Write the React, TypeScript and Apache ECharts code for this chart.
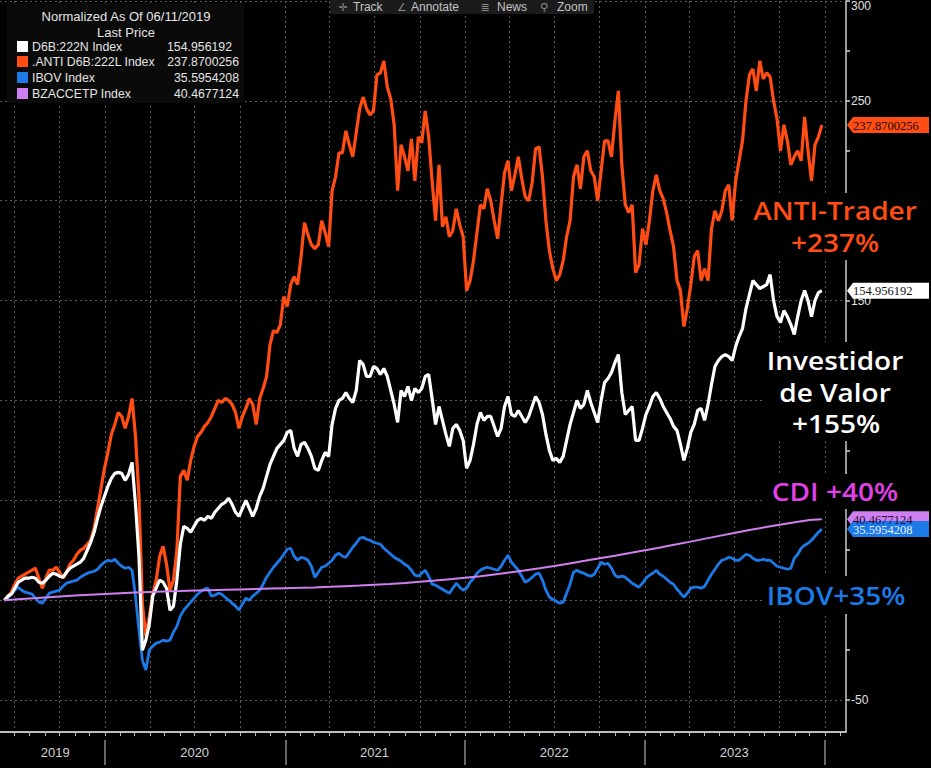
import React, { useEffect, useRef } from "react";
import * as echarts from "echarts";

// ---------------- DATA (weekly closes from 2019-06-11, normalized % change) ----------------
const FIRST_DATE = [2019, 5, 11]; // 2019-06-11

const antiValues = [
  0, 2, 4, 8, 11, 12, 13, 14, 15, 16,
  11, 6, 11, 15, 15, 16.5, 14, 11, 14, 18,
  20, 23, 25, 26, 28, 30, 36, 46, 56, 66,
  74, 83, 88, 94, 92, 86, 92, 101, 82, 52,
  -2, -18, -8, 3, 10, 22, 27, 18, 5, 10,
  25, 62, 65, 60, 70, 77, 82, 84, 87, 89,
  92, 96, 100, 99, 101, 100, 98, 94, 86, 92,
  96, 101, 98, 88, 101, 106, 112, 128, 135, 134,
  138, 152, 147, 158, 162, 158, 172, 189, 183, 178,
  176, 178, 190, 184, 177, 205, 212, 224, 224, 235,
  228, 222, 234, 246, 252, 246, 243, 245, 263, 264,
  270, 257, 251, 238, 205, 228, 222, 215, 231, 210,
  232, 229, 245, 232, 210, 190, 218, 187, 192, 182,
  185, 196, 188, 182, 155, 160, 170, 184, 198, 196,
  206, 200, 190, 181, 198, 214, 220, 205, 213, 222,
  211, 202, 200, 209, 226, 227, 212, 190, 175, 166,
  160, 163, 170, 182, 190, 212, 218, 206, 222, 225,
  215, 212, 200, 215, 230, 230, 222, 240, 255, 218,
  198, 194, 198, 164, 168, 186, 178, 190, 205, 213,
  205, 201, 194, 185, 177, 160, 155, 137, 146, 158,
  172, 175, 160, 166, 160, 186, 195, 190, 195, 205,
  208, 190, 210, 220, 230, 250, 263, 266, 255, 270,
  261, 264, 262, 250, 241, 225, 238, 230, 218, 222,
  225, 220, 242, 225, 210, 228, 232, 237.87,
];

const valorValues = [
  0, 2, 3, 6, 9, 10, 11, 11, 11.5, 11,
  9, 8.5, 10, 12, 13.5, 13, 12, 11.5, 14, 16,
  17, 18, 19, 21, 25, 29, 34, 41, 47, 52,
  57, 61, 63.5, 64, 63.5, 60, 63, 69, 48, 22,
  -25, -20, -12, 2, 6, 10, 9, 6, -5, -3,
  10, 28, 37, 36, 34, 37, 40, 41, 40, 42,
  41, 44, 46, 48, 49, 51, 48, 44, 42, 46,
  50, 46, 42, 46, 52, 56, 62, 68, 72, 76,
  78, 80, 84, 85, 76, 72, 78, 79, 76, 72,
  66, 65, 70, 74, 72, 88, 96, 100, 101, 104,
  101, 99, 105, 120, 118, 112, 112, 117, 116, 113,
  116, 112, 105, 98, 89, 105, 102, 107, 100, 106,
  104, 106, 112, 113, 101, 88, 97, 90, 83, 77,
  86, 88, 85, 80, 66, 70, 78, 88, 94, 90,
  92, 92, 87, 82, 86, 97, 102, 93, 92, 95,
  92, 89, 92, 97, 102, 99, 93, 83, 75, 70,
  71, 69, 72, 80, 88, 94, 100, 96, 98, 105,
  99, 94, 89, 100, 109, 111, 114, 119, 123, 104,
  93, 95, 97, 80, 80, 86, 93, 97, 102, 104,
  101, 97, 94, 91, 87, 85, 78, 70, 76, 84,
  88, 95, 96, 90, 98, 108, 117, 120, 122, 123,
  122, 120, 127, 132, 136, 146, 153, 160, 158, 156,
  157, 158, 163, 150, 142, 139, 145, 142, 138, 133,
  142, 150, 155, 150, 142, 150, 154, 154.96,
];

const ibovValues = [
  0, 1, 3, 5, 6.5, 5, 4, 3.5, 3, 1,
  -1, -1.5, 1, 3.5, 4, 4.5, 5, 7, 8.5, 9,
  9.5, 10, 11.5, 12.5, 13.5, 14, 14.5, 15.5, 17.5, 19,
  20, 19.5, 20.5, 18.5, 17, 16, 16.5, 15, 2, -15,
  -30, -35, -25, -23, -21.5, -21, -20, -20.5, -20, -16,
  -13, -8, -5, -3, -1, 1, 3, 4.5, 5.5, 6,
  2, 2.5, 3.5, 3, 1.5, 0, -1.5, -3, -5, -2,
  1, 0, 2, 3.5, 5, 8, 11.5, 14, 16.5, 18.5,
  20.5, 23, 25.5, 26, 22, 20, 21.5, 21, 20, 17,
  11.5, 14, 16.5, 17, 18.5, 20, 22.5, 23.5, 22, 21.5,
  24, 26.5, 28.5, 31, 31.5, 30.5, 30, 29, 28.5, 28,
  26, 24.5, 23, 21.5, 20.5, 19.5, 18, 17, 15, 12.5,
  12, 13.5, 15, 12, 8, 7.5, 6.5, 5.5, 4.5, 3.5,
  6, 8.5, 6.5, 5, 6, 9, 11, 13.5, 15, 16,
  16.5, 16, 15.5, 15, 17, 20, 22.5, 19, 17, 15,
  12, 9, 10, 11.5, 13, 13.5, 10, 5, 1.5, 0.5,
  -0.5, -1.5, -1, 3.5, 8, 14, 15, 14, 13.5, 12.5,
  12, 13, 16, 19, 18, 18.5, 16, 12.5, 11.5, 12,
  11.5, 10, 8.5, 7.5, 6.5, 8.5, 11, 12.5, 13.5, 15,
  13, 12, 10.5, 9, 8, 5.5, 3.5, 1.5, 3.5, 6,
  6.5, 6.5, 6, 7, 10, 13, 15.5, 18, 20, 20.5,
  21.5, 21, 20, 20, 21.5, 23, 22.5, 21, 20, 20,
  20.5, 20, 20, 18.5, 17, 16.5, 16, 15.5, 16, 21,
  23, 26, 27.5, 28.5, 30, 32, 34, 35.6,
];

// CDI: start, then first of each month Jul-2019..Dec-2023, then last date
const cdiValues = [
  0,
  0.3, 0.8, 1.3, 1.8, 2.3, 2.7,
  3.1, 3.5, 3.8, 4.1, 4.4, 4.6, 4.8, 5.0, 5.2, 5.4, 5.6, 5.8,
  6.0, 6.2, 6.4, 6.7, 7.0, 7.3, 7.7, 8.1, 8.6, 9.2, 9.8, 10.5,
  11.2, 12.0, 12.9, 13.9, 14.9, 16.0, 17.1, 18.4, 19.7, 21.0, 22.3, 23.6,
  25.0, 26.4, 27.8, 29.2, 30.7, 32.2, 33.6, 35.1, 36.5, 37.8, 39.0, 40.1,
  40.47,
];

const legendNames = ["D6B:222N Index", ".ANTI D6B:222L Index", "IBOV Index", "BZACCETP Index"];
const lastPrices = ["154.956192", "237.8700256", "35.5954208", "40.4677124"];
const lastValues = [154.956192, 237.8700256, 35.5954208, 40.4677124];
const yLabelValues = [-50, 0, 50, 100, 150, 200, 250, 300];
const yTickValues = [-50, -25, 0, 25, 50, 75, 100, 125, 150, 175, 200, 225, 250, 275, 300];
const toolbarItems = ["Track", "Annotate", "News", "Zoom"];

// ---------------- helpers ----------------
const COLORS = {
  valor: "#ffffff",
  anti: "#ff4d14",
  ibov: "#1c7ae8",
  cdi: "#cf80f0",
  cdiText: "#e040e6",
};

const X_MIN = new Date(2019, 5, 2).getTime();
const X_MAX = new Date(2024, 1, 13).getTime();

const weekTimes = antiValues.map((_, i) => new Date(FIRST_DATE[0], FIRST_DATE[1], FIRST_DATE[2] + 7 * i).getTime());
const lastTime = weekTimes[weekTimes.length - 1];

const cdiTimes: number[] = [weekTimes[0]];
for (let y = 2019; y <= 2023; y++) {
  for (let m = 0; m < 12; m++) {
    if (y === 2019 && m < 6) continue;
    cdiTimes.push(new Date(y, m, 1).getTime());
  }
}
cdiTimes.push(lastTime);

const monthTicks: number[] = [];
const quarterTicks: number[] = [];
for (let y = 2019; y <= 2024; y++) {
  for (let m = 0; m < 12; m++) {
    const t = new Date(y, m, 1).getTime();
    if (t <= X_MIN || t >= X_MAX) continue;
    monthTicks.push(t);
    if (m % 3 === 0) quarterTicks.push(t);
  }
}
const yearTicks = [2020, 2021, 2022, 2023, 2024].map((y) => new Date(y, 0, 1).getTime());
const yearLabelTicks = [new Date(2019, 8, 22).getTime()].concat(
  [2020, 2021, 2022, 2023].map((y) => new Date(y, 6, 1).getTime())
);

const antiData = weekTimes.map((t, i) => [t, antiValues[i]]);
const valorData = weekTimes.map((t, i) => [t, valorValues[i]]);
const ibovData = weekTimes.map((t, i) => [t, ibovValues[i]]);
const cdiData = cdiTimes.map((t, i) => [t, cdiValues[i]]);

const dotted = { color: "#5c5c5c", width: 1, type: [2, 3] as any };

function buildOption() {
  const xBase = { type: "value", min: X_MIN, max: X_MAX, position: "bottom", gridIndex: 0, scale: true };
  return {
    animation: false,
    backgroundColor: "#000000",
    grid: { left: 0, right: 85, top: 0, bottom: 36, containLabel: false },
    xAxis: [
      {
        ...xBase,
        axisLine: { show: true, onZero: false, lineStyle: { color: "#bdbdbd", width: 2 } },
        axisTick: { show: true, length: 4, customValues: monthTicks, lineStyle: { color: "#bdbdbd", width: 1 } },
        axisLabel: { show: false },
        splitLine: { show: false },
      },
      {
        ...xBase,
        axisLine: { show: false, onZero: false },
        axisTick: { show: false, customValues: quarterTicks },
        axisLabel: { show: false },
        splitLine: { show: true, lineStyle: dotted },
      },
      {
        ...xBase,
        offset: 8,
        axisLine: { show: false, onZero: false },
        axisTick: { show: true, length: 25, customValues: yearTicks, lineStyle: { color: "#8a8a8a", width: 1.5 } },
        axisLabel: {
          show: true,
          customValues: yearLabelTicks,
          formatter: (v: number) => String(new Date(v).getFullYear()),
          color: "#d2d2d2",
          fontSize: 13,
          fontFamily: "Liberation Sans Narrow, Liberation Sans, sans-serif",
          margin: 6,
        },
        splitLine: { show: false },
      },
    ],
    yAxis: [
      {
        type: "value",
        min: -66,
        max: 300,
        position: "right",
        splitNumber: 7,
        axisLine: { show: true, onZero: false, lineStyle: { color: "#c8c8c8", width: 1.5 } },
        axisTick: { show: true, inside: false, length: 4, customValues: yTickValues, lineStyle: { color: "#d0d0d0", width: 1.5 } },
        axisLabel: {
          show: true,
          customValues: yLabelValues,
          color: "#e0e0e0",
          fontSize: 12,
          fontFamily: "Liberation Sans, Arial, sans-serif",
          margin: 5,
          formatter: (v: number) => {
            if (Math.round(v) % 50 !== 0) return "";
            if (v >= 300) return "{t|" + v + "}";
            return String(v);
          },
          rich: { t: { padding: [10, 0, 0, 0], color: "#e0e0e0", fontSize: 12, fontFamily: "Liberation Sans, Arial, sans-serif" } },
        },
        splitLine: { show: false },
      },
      {
        type: "value",
        min: -66,
        max: 300,
        position: "right",
        axisLine: { show: false, onZero: false },
        axisTick: { show: false, customValues: yLabelValues },
        axisLabel: { show: false },
        splitLine: { show: true, lineStyle: dotted },
      },
    ],
    series: [
      {
        name: legendNames[2],
        type: "line",
        data: ibovData,
        showSymbol: false,
        symbol: "none",
        silent: true,
        lineStyle: { color: COLORS.ibov, width: 2.8 },
        itemStyle: { color: COLORS.ibov },
        z: 3,
      },
      {
        name: legendNames[1],
        type: "line",
        data: antiData,
        showSymbol: false,
        symbol: "none",
        silent: true,
        lineStyle: { color: COLORS.anti, width: 3.2 },
        itemStyle: { color: COLORS.anti },
        z: 4,
      },
      {
        name: legendNames[0],
        type: "line",
        data: valorData,
        showSymbol: false,
        symbol: "none",
        silent: true,
        lineStyle: { color: COLORS.valor, width: 3.2 },
        itemStyle: { color: COLORS.valor },
        z: 5,
      },
      {
        name: legendNames[3],
        type: "line",
        data: cdiData,
        showSymbol: false,
        symbol: "none",
        silent: true,
        lineStyle: { color: COLORS.cdi, width: 2 },
        itemStyle: { color: COLORS.cdi },
        z: 6,
      },
    ],
  };
}

function txt(x: number, y: number, text: string, style: any, extra: any = {}) {
  return {
    type: "text",
    x,
    y,
    z: 110,
    silent: true,
    ...extra,
    style: { text, ...style },
  };
}

function buildGraphics(chart: any) {
  const g: any[] = [];
  const bigFont = { fontFamily: "Open Sans, Noto Sans, sans-serif", fontWeight: 600, fontSize: 25, align: "center", verticalAlign: "middle", textAlign: "center", textVerticalAlign: "middle" };
  const sx = { scaleX: 1.12 };

  const boxes = [
    [745, 193, 186, 67],
    [763, 342, 168, 99],
    [765, 474, 166, 35],
    [762, 576, 169, 38],
  ];
  boxes.forEach(([x, y, w, h]) =>
    g.push({ type: "rect", z: 105, silent: true, shape: { x, y, width: w, height: h }, style: { fill: "#000000" } })
  );
  g.push(txt(835, 211, "ANTI-Trader", { ...bigFont, fill: COLORS.anti }, sx));
  g.push(txt(835, 243, "+237%", { ...bigFont, fill: COLORS.anti }, sx));
  g.push(txt(835, 361, "Investidor", { ...bigFont, fill: "#ffffff" }, sx));
  g.push(txt(835, 393, "de Valor", { ...bigFont, fill: "#ffffff" }, sx));
  g.push(txt(836, 424, "+155%", { ...bigFont, fill: "#ffffff" }, sx));
  g.push(txt(835, 492, "CDI +40%", { ...bigFont, fill: COLORS.cdiText }, sx));
  g.push(txt(836, 596, "IBOV+35%", { ...bigFont, fill: COLORS.ibov }, sx));

  g.push({ type: "rect", z: 105, silent: true, shape: { x: 7, y: 3, width: 237, height: 100 }, style: { fill: "#0a0a0a" } });
  const hf = { fontFamily: "Liberation Sans, Arial, sans-serif", fontSize: 13, fill: "#e4e4e4", verticalAlign: "middle", textVerticalAlign: "middle" };
  const lf = { ...hf, fontSize: 12.3 };
  g.push(txt(126, 16, "Normalized As Of 06/11/2019", { ...hf, align: "center", textAlign: "center" }));
  g.push(txt(126, 32, "Last Price", { ...hf, align: "center", textAlign: "center" }));
  const swatch = [COLORS.valor, COLORS.anti, COLORS.ibov, COLORS.cdi];
  const rowsY = [47, 62, 78, 94];
  legendNames.forEach((n, i) => {
    g.push({ type: "rect", z: 110, silent: true, shape: { x: 17, y: rowsY[i] - 6, width: 11, height: 11 }, style: { fill: swatch[i] } });
    g.push(txt(32, rowsY[i], n, { ...lf, align: "left", textAlign: "left" }));
    const decimals = lastPrices[i].split(".")[1].length;
    g.push(txt(239 - (7 - decimals) * 7, rowsY[i], lastPrices[i], { ...lf, align: "right", textAlign: "right" }));
  });

  g.push({ type: "rect", z: 105, silent: true, shape: { x: 330, y: 0, width: 264, height: 14 }, style: { fill: "#1b1b1b" } });
  const tf = { fontFamily: "Liberation Sans, Arial, sans-serif", fontSize: 12, fill: "#c4c4c4", verticalAlign: "middle", textVerticalAlign: "middle", align: "left", textAlign: "left" };
  const icf = { fontFamily: "DejaVu Sans, sans-serif", fontSize: 11, fill: "#8a8a8a", verticalAlign: "middle", textVerticalAlign: "middle", align: "center", textAlign: "center" };
  const icons = ["✛", "∠", "≣", "⚲"];
  const iconX = [343, 402, 485, 544];
  const textX = [353, 411, 497, 557];
  toolbarItems.forEach((t, i) => {
    g.push(txt(iconX[i], 7, icons[i], icf));
    g.push(txt(textX[i], 7, t, tf));
  });

  const tagOrder = [3, 2, 0, 1];
  const tagFill = [COLORS.valor, COLORS.anti, COLORS.ibov, COLORS.cdi];
  const tagText = ["#111111", "#1a0800", "#e8f2ff", "#2a0a35"];
  tagOrder.forEach((i) => {
    const cy = chart.convertToPixel({ yAxisIndex: 0 }, lastValues[i]);
    const x0 = 847;
    g.push({
      type: "polygon",
      z: 112,
      silent: true,
      shape: { points: [[x0, cy], [x0 + 6, cy - 8], [929, cy - 8], [929, cy + 8], [x0 + 6, cy + 8]] },
      style: { fill: tagFill[i] },
    });
    g.push({
      ...txt(x0 + 6, cy + 0.5, lastPrices[i], {
        fontFamily: "Liberation Serif, Times New Roman, serif",
        fontSize: 12.5,
        fill: tagText[i],
        align: "left",
        textAlign: "left",
        verticalAlign: "middle",
        textVerticalAlign: "middle",
      }),
      z: 113,
    });
  });
  return g;
}

export default function App() {
  const ref = useRef<HTMLDivElement>(null);
  useEffect(() => {
    document.body.style.margin = "0";
    document.body.style.background = "#000000";
    const chart = echarts.init(ref.current as HTMLDivElement, undefined, { renderer: "svg" });
    chart.setOption(buildOption() as any);
    chart.setOption({ graphic: buildGraphics(chart) } as any);
    return () => {
      chart.dispose();
    };
  }, []);
  return <div ref={ref} style={{ width: 931, height: 768, background: "#000000" }} />;
}
